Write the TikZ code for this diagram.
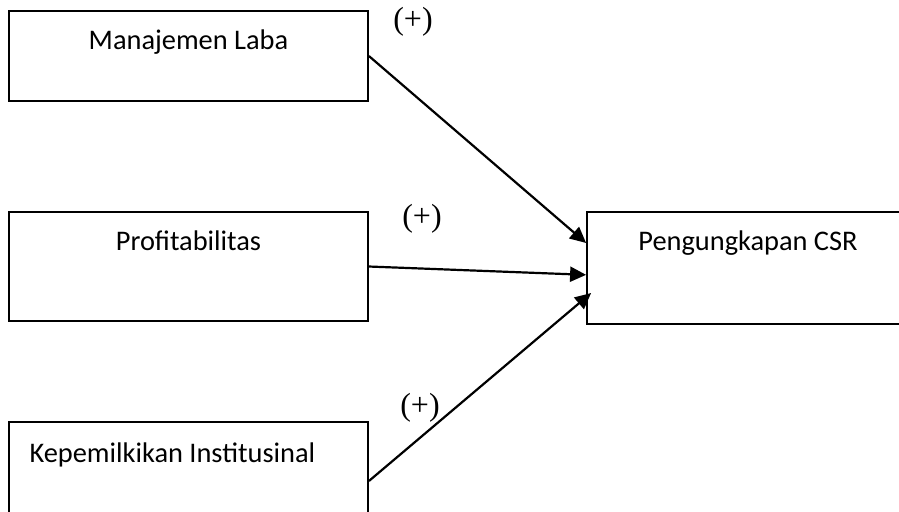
\documentclass[tikz,border=0pt]{standalone}
\usepackage{fontspec}
\setmainfont{Carlito}
\newfontfamily\timesf{Liberation Serif}
\usetikzlibrary{arrows.meta,calc,positioning}

\tikzset{
  caja/.style={draw=black, line width=.9pt, minimum width=179.5pt, inner sep=0pt},
  texto/.style={font=\fontsize{14.2}{17}\selectfont, inner sep=0pt, anchor=base},
  signo/.style={font=\timesf\fontsize{16}{19}\selectfont, inner sep=0pt},
  flecha/.style={-{Triangle[length=8pt,width=7.5pt]}, line width=1.1pt, black}
}

\begin{document}
\begin{tikzpicture}[x=.5pt,y=-.5pt]
\clip (0,0) rectangle (899,511);			%%%%	Marco de la figura

%%%%%%%%%%%%%%%%%%%%%%%%%%%%%%%%%%%%%%%%%%%%%%%%	CAJAS
\node[caja, minimum height=45pt]   (laba) at (188.5,56)  {};
\node[caja, minimum height=54.5pt] (prof) at (188.5,266.5) {};
\node[caja, minimum height=59pt]   (inst) at (188.5,481) {};	%%%%	se sale por abajo
\node[caja, minimum width=171.5pt, minimum height=56pt] (csr) at (758.5,268) {};	%%%%	se sale por la derecha

%%%%%%%%%%%%%%%%%%%%%%%%%%%%%%%%%%%%%%%%%%%%%%%%	TEXTOS
\node[texto] (tlaba) at ($(laba.north)+(0,39)$) {Manajemen Laba};
\node[texto] (tprof) at ($(prof.north)+(0,39)$) {Profitabilitas};
\node[texto, anchor=base west] (tinst) at ($(inst.north west)+(21,41)$) {Kepemilkikan Institusinal};
\node[texto] (tcsr) at ($(csr.north)+(-10.5,39)$) {Pengungkapan CSR};

%%%%%%%%%%%%%%%%%%%%%%%%%%%%%%%%%%%%%%%%%%%%%%%%	FLECHAS
\coordinate (e1) at ($(csr.north west)!.28!(csr.south west)$);
\coordinate (e2) at ($(csr.north west)!.56!(csr.south west)$);
\coordinate (e3) at ($(csr.north west)!.72!(csr.south west)+(5,0)$);

\draw[flecha] (laba.east) -- (e1);
\draw[flecha] (prof.east) -- (e2);
\draw[flecha] (inst.east) -- (e3);

%%%%%%%%%%%%%%%%%%%%%%%%%%%%%%%%%%%%%%%%%%%%%%%%	SIGNOS
\node[signo] (s1) at (413,22)  {(+)};
\node[signo] (s2) at (422,219) {(+)};
\node[signo] (s3) at (420,408) {(+)};

\end{tikzpicture}
\end{document}
